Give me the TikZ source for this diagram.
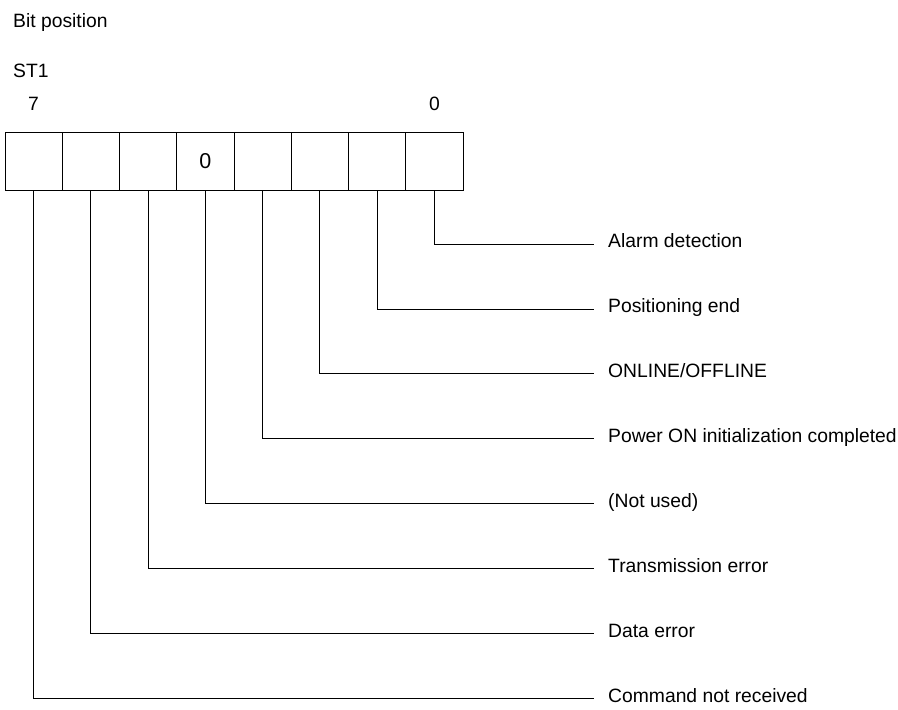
\documentclass[tikz,border=0pt]{standalone}
\usepackage{fontspec}
\setmainfont{Liberation Sans}
\begin{document}
\begin{tikzpicture}[x=1pt,y=-1pt,
  txt/.style={font=\fontsize{19.3}{22}\selectfont, inner sep=0pt, anchor=base west},
  cell/.style={draw, line width=0.9pt, minimum width=57.25pt, minimum height=58pt, inner sep=0pt, font=\fontsize{21.5}{24}\selectfont},
  lbl/.style={font=\fontsize{19.3}{22}\selectfont, anchor=west, inner ysep=0pt, inner xsep=0pt, text height=0.72em, text depth=0pt},
  lead/.style={line width=0.9pt}]
\useasboundingbox (0,0) rectangle (898,710);
\node[txt] (bitpos) at (13,27) {Bit position};
\node[txt] (st1) at (13,77) {ST1};
\node[txt] (b7) at (28,110) {7};
\node[txt] (b0) at (429,110) {0};
% cells: bit 7 at left, bit 0 at right
\foreach \i in {0,...,7}{
  \pgfmathsetmacro{\cx}{5+57.25*(7-\i)+28.625}
  \ifnum\i=4
    \node[cell] (c\i) at (\cx,161) {0};
  \else
    \node[cell] (c\i) at (\cx,161) {};
  \fi
}
\foreach \i/\t in {0/{Alarm detection},1/{Positioning end},2/{ONLINE/OFFLINE},3/{Power ON initialization completed},4/{(Not used)},5/{Transmission error},6/{Data error},7/{Command not received}}{
  \pgfmathsetmacro{\ly}{244+64.95*\i}
  \coordinate (e\i) at (594,\ly);
  \node[lbl] (l\i) at (608,\ly) {\t};
  \draw[lead] (c\i.south) |- (e\i);
}
\end{tikzpicture}
\end{document}
